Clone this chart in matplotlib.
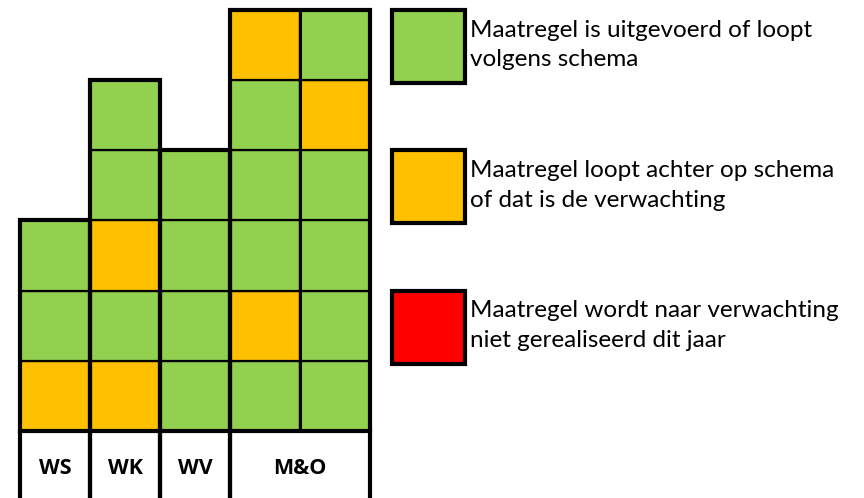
import matplotlib
matplotlib.use('Agg')
import matplotlib.pyplot as plt
from matplotlib.patches import Rectangle

# status codes: 1 = op schema (groen), 2 = achter (oranje), 3 = niet gerealiseerd (rood)
groups = ['WS', 'WK', 'WV', 'M&O']
col_ws = [2, 1, 1]
col_wk = [2, 1, 2, 1, 1]
col_wv = [1, 1, 1, 1]
col_mo_1 = [1, 2, 1, 1, 1, 2]
col_mo_2 = [1, 1, 1, 1, 2, 1]
group_columns = [[col_ws], [col_wk], [col_wv], [col_mo_1, col_mo_2]]

legend_codes = [1, 2, 3]
legend_texts = [
    'Maatregel is uitgevoerd of loopt\nvolgens schema',
    'Maatregel loopt achter op schema\nof dat is de verwachting',
    'Maatregel wordt naar verwachting\nniet gerealiseerd dit jaar',
]

colors = {1: '#92D050', 2: '#FFC000', 3: '#FF0000'}

plt.rcParams['font.family'] = ['Lato', 'DejaVu Sans']

fig = plt.figure(figsize=(8.64, 4.98), dpi=100)
ax = fig.add_axes([0, 0, 1, 1])
cw, ch = 70.0, 70.2
ax.set_xlim(-20 / cw, 844 / cw)
ax.set_ylim(-67 / ch, 431 / ch)
ax.axis('off')

thick = 3.0
x = 0
for name, cols in zip(groups, group_columns):
    x0 = x
    for k, col in enumerate(cols):
        for row, code in enumerate(col):
            ax.add_patch(Rectangle((x, row), 1, 1, facecolor=colors[code],
                                   edgecolor='black', lw=1.6, zorder=2))
        if k > 0:
            ax.plot([x, x], [0, len(col)], color='black', lw=2.2, zorder=3)
        x += 1
    height = max(len(c) for c in cols)
    # thick outline of the group, running down through the label row
    ax.plot([x0, x0, x, x], [-2, height, height, -2], color='black', lw=thick,
            zorder=4, solid_joinstyle='miter')
    ax.text((x0 + x) / 2, -0.53, name, ha='center', va='center',
            fontsize=15.5, fontweight='bold', family=['Open Sans', 'DejaVu Sans'])
ax.plot([0, x], [0, 0], color='black', lw=thick, zorder=4)

# legend
lx = x + 0.31
for i, (code, txt) in enumerate(zip(legend_codes, legend_texts)):
    y0 = 4.96 - 2 * i
    ax.add_patch(Rectangle((lx, y0), 1.05, 1.04, facecolor=colors[code],
                           edgecolor='black', lw=thick, zorder=4))
    ax.text(lx + 1.12, y0 + 0.54, txt, ha='left', va='center',
            fontsize=17.5, linespacing=1.5)

fig.savefig('out.png', dpi=100, facecolor='white')
